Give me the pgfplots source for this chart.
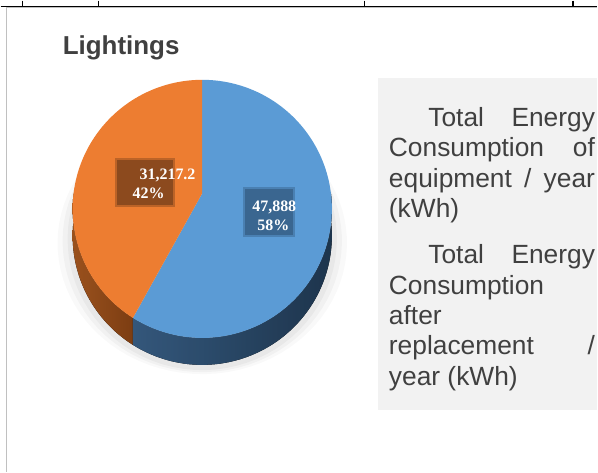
\documentclass[border=0pt]{standalone}
\usepackage{fontspec}
\setmainfont{Liberation Sans}
\newfontfamily\lblfont{Liberation Serif}
\usepackage{pgfplots}
\pgfplotsset{compat=1.18}
\usepgfplotslibrary{fillbetween}
\definecolor{pieblue}{HTML}{5B9BD5}
\definecolor{pieorange}{HTML}{ED7D31}
\definecolor{sideblueA}{HTML}{3A6189}
\definecolor{sideblueM}{HTML}{28466A}
\definecolor{sideblueC}{HTML}{223B55}
\definecolor{sideorangeA}{HTML}{AA5A21}
\definecolor{sideorangeM}{HTML}{9A501B}
\definecolor{sideorangeC}{HTML}{8A4515}
\definecolor{lblblue}{HTML}{3A6690}
\definecolor{lblorange}{HTML}{8C4A1E}
\definecolor{txt}{HTML}{404040}
\definecolor{legbg}{HTML}{F2F2F2}
\definecolor{framegray}{HTML}{C0C0C0}
% data: value and share (%) of each slice
\def\valA{47888}   \def\pctA{58}  % blue: after replacement
\def\valB{31217.2} \def\pctB{42}  % orange: equipment
% geometry of the tilted pie (pixel units)
\def\cx{202}\def\cy{193}\def\rx{129}\def\ry{127.5}\def\pe{0.121}\def\dep{27}
\pgfmathsetmacro\splitA{90-3.6*\pctA}
\pgfmathsetmacro\endB{90+3.6*\pctB}
\newcommand\sidepiece[4]{%
  \addplot[draw=none, name path=st#4, domain=#1:#2, samples=80, variable=\t, forget plot]
    ({\cx+\rx*cos(\t)/(1+\pe*sin(\t))},{\cy-\ry*sin(\t)/(1+\pe*sin(\t))});
  \addplot[draw=none, name path=sb#4, domain=#1:#2, samples=80, variable=\t, forget plot]
    ({\cx+\rx*cos(\t)/(1+\pe*sin(\t))},{\cy+\dep-\ry*sin(\t)/(1+\pe*sin(\t))});
  \addplot[#3, draw=none, forget plot] fill between[of=st#4 and sb#4];
}
\newcommand\shadowlayer[3]{%
  \addplot[fill=black, fill opacity=#3, draw=none, domain=0:360, samples=90, variable=\t, forget plot]
  ({\cx+(\rx+#1)*cos(\t)/(1+\pe*sin(\t))},{\cy+#2-(\ry+2)*sin(\t)/(1+\pe*sin(\t))}) -- cycle;
}
\begin{document}
\begin{tikzpicture}
\begin{axis}[scale only axis, width=598pt, height=472pt,
  xmin=0, xmax=598, ymin=0, ymax=472, y dir=reverse,
  hide axis, clip=false]
% page frame
\draw[draw=none] (axis cs:0,0) rectangle (axis cs:598,472);
\draw[framegray, line width=1pt] (axis cs:5.7,472) -- (axis cs:5.7,7) -- (axis cs:598,7);
\draw[black, line width=1.5pt] (axis cs:0,5.7) -- (axis cs:598,5.7);
\draw[black, line width=1.5pt] (axis cs:21.7,0) -- (axis cs:21.7,5.7);
\draw[black, line width=1.5pt] (axis cs:98,0) -- (axis cs:98,5.7);
\draw[black, line width=1.5pt] (axis cs:364.5,0) -- (axis cs:364.5,5.7);
\draw[black, line width=1.5pt] (axis cs:573.6,0) -- (axis cs:573.6,5.7);
% title
\node[anchor=base west, inner sep=0, text=txt, font=\bfseries\fontsize{26}{26}\selectfont]
  at (axis cs:62,54) {Lightings};
% soft shadow
\shadowlayer{15}{34}{0.025}
\shadowlayer{10}{32}{0.03}
\shadowlayer{5}{30}{0.035}
% sides
\sidepiece{180}{\endB}{left color=sideorangeA, middle color=sideorangeM, right color=sideorangeC}{o}
\sidepiece{\splitA}{0}{left color=sideblueA, middle color=sideblueM, right color=sideblueC}{b}
% top faces
\addplot[fill=pieblue, draw=none, domain=\splitA:90, samples=120, variable=\t]
  ({\cx+\rx*cos(\t)/(1+\pe*sin(\t))},{\cy-\ry*sin(\t)/(1+\pe*sin(\t))}) -- (axis cs:\cx,\cy) -- cycle;
\addplot[fill=pieorange, draw=none, domain=90:\endB, samples=120, variable=\t]
  ({\cx+\rx*cos(\t)/(1+\pe*sin(\t))},{\cy-\ry*sin(\t)/(1+\pe*sin(\t))}) -- (axis cs:\cx,\cy) -- cycle;
% data labels
\fill[lblorange, opacity=0.5] (axis cs:115,158) rectangle (axis cs:175,207);
\fill[lblorange] (axis cs:117,160) rectangle (axis cs:173,205);
\fill[lblblue, opacity=0.5] (axis cs:243,187) rectangle (axis cs:295,237);
\fill[lblblue] (axis cs:245,189) rectangle (axis cs:293,235);
\node[anchor=base west, inner sep=0, text=white, font=\lblfont\bfseries\fontsize{16}{16}\selectfont]
  at (axis cs:139,179) {31,217.2};
\node[anchor=base west, inner sep=0, text=white, font=\lblfont\bfseries\fontsize{16}{16}\selectfont]
  at (axis cs:132,198) {\pctB\%};
\node[anchor=base west, inner sep=0, text=white, font=\lblfont\bfseries\fontsize{16}{16}\selectfont]
  at (axis cs:252,211) {47,888};
\node[anchor=base west, inner sep=0, text=white, font=\lblfont\bfseries\fontsize{16}{16}\selectfont]
  at (axis cs:257,230) {\pctA\%};
% legend
\fill[legbg] (axis cs:378,77) rectangle (axis cs:598,410);
\node[anchor=base west, inner sep=0, text=txt, font=\fontsize{26.4}{26.4}\selectfont] at (axis cs:428.5,126)   {\makebox[167pt][s]{Total Energy}};
\node[anchor=base west, inner sep=0, text=txt, font=\fontsize{26.4}{26.4}\selectfont] at (axis cs:389,156.5) {\makebox[206.5pt][s]{Consumption of}};
\node[anchor=base west, inner sep=0, text=txt, font=\fontsize{26.4}{26.4}\selectfont] at (axis cs:389,187) {\makebox[206.5pt][s]{equipment / year}};
\node[anchor=base west, inner sep=0, text=txt, font=\fontsize{26.4}{26.4}\selectfont] at (axis cs:389,217.5) {(kWh)};
\node[anchor=base west, inner sep=0, text=txt, font=\fontsize{26.4}{26.4}\selectfont] at (axis cs:428.5,263.5)   {\makebox[167pt][s]{Total Energy}};
\node[anchor=base west, inner sep=0, text=txt, font=\fontsize{26.4}{26.4}\selectfont] at (axis cs:389,294) {Consumption};
\node[anchor=base west, inner sep=0, text=txt, font=\fontsize{26.4}{26.4}\selectfont] at (axis cs:389,324.5) {after};
\node[anchor=base west, inner sep=0, text=txt, font=\fontsize{26.4}{26.4}\selectfont] at (axis cs:389,355) {\makebox[206.5pt][s]{replacement /}};
\node[anchor=base west, inner sep=0, text=txt, font=\fontsize{26.4}{26.4}\selectfont] at (axis cs:389,385.5) {year (kWh)};
\end{axis}
\end{tikzpicture}
\end{document}
